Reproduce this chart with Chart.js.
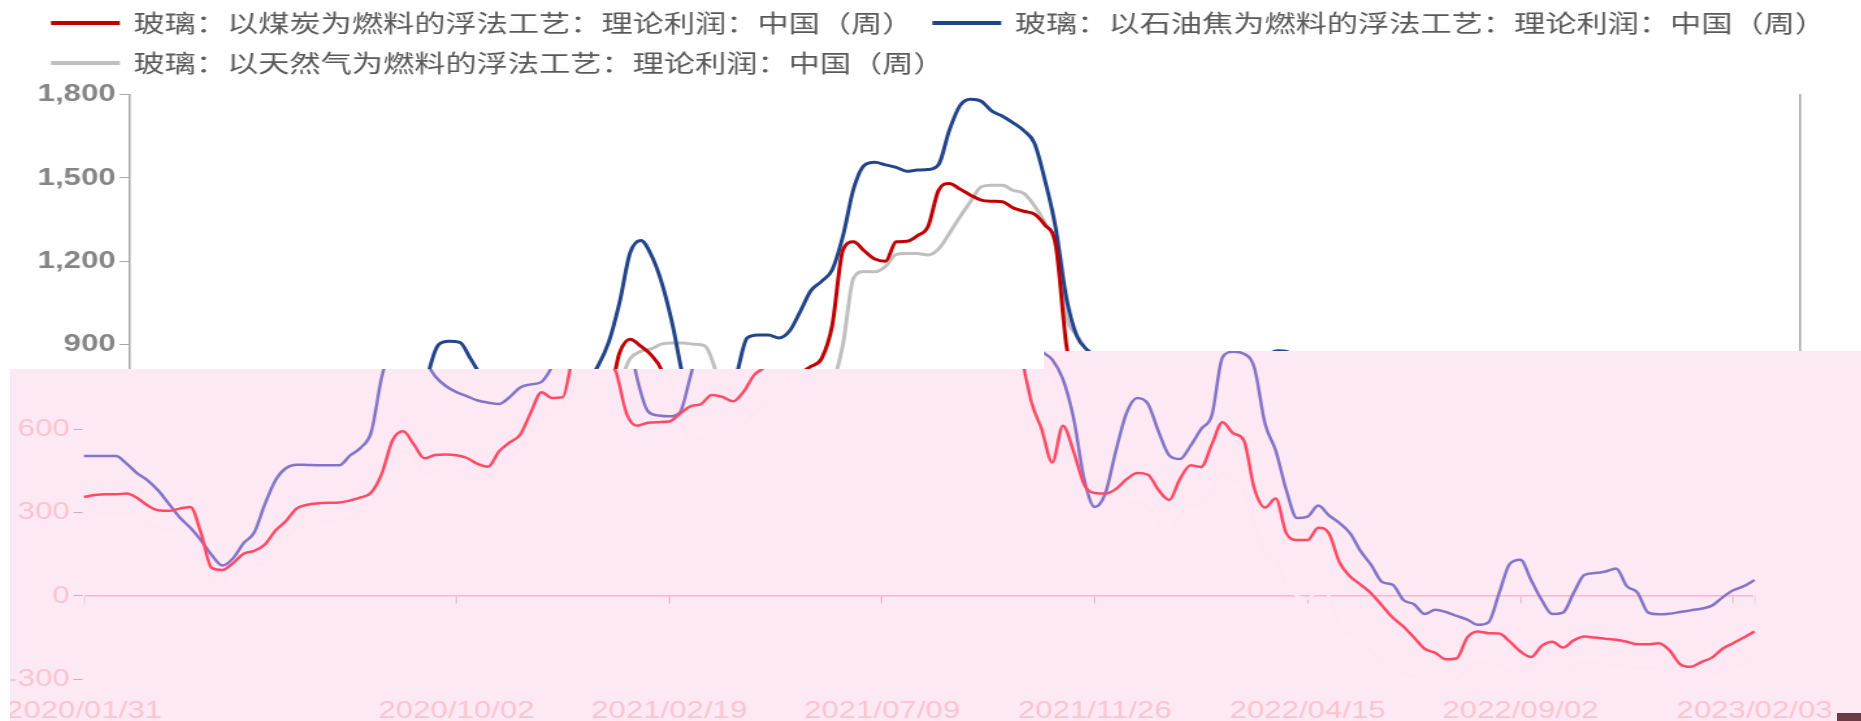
<!DOCTYPE html>
<html>
<head>
<meta charset="utf-8">
<script src="https://cdn.jsdelivr.net/npm/chart.js@4.4.1/dist/chart.umd.min.js"></script>
<style>
html,body{margin:0;padding:0;background:#fff;overflow:hidden}
#stage{position:relative;width:1861px;height:721px;overflow:hidden;background:#fff}
.layer{position:absolute;left:0;top:0;width:1861px;height:721px;overflow:hidden}
#pinkLayer{clip-path:polygon(10px 369px,1044px 369px,1044px 351px,1861px 351px,1861px 721px,10px 721px)}
canvas.c{position:absolute;transform-origin:0 0;transform:scaleX(1.3);width:1470px;height:731px}
#cTop{left:-4px;top:-11px;background:#fff}
#cPink{left:-50px;top:-10px;background:#fde9f4}
#patch{position:absolute;left:1837px;top:713px;width:24px;height:8px;background:#6b3b45}
</style>
</head>
<body>
<div id="stage">
  <div class="layer" id="topLayer"><canvas class="c" id="cTop" width="1470" height="731"></canvas></div>
  <div class="layer" id="pinkLayer"><canvas class="c" id="cPink" width="1470" height="731"></canvas></div>
  <div id="patch"></div>
</div>
<script>
// ---- data (weekly, 2020/01/31 .. 2023/02/03) ----
const seriesNames = [
  '玻璃：以煤炭为燃料的浮法工艺：理论利润：中国（周）',
  '玻璃：以石油焦为燃料的浮法工艺：理论利润：中国（周）',
  '玻璃：以天然气为燃料的浮法工艺：理论利润：中国（周）'
];
const coalProfit = [
  356,363,366,366,368,352,325,308,306,314,
  320,226,100,93,118,152,162,185,235,270,
  315,328,333,335,336,343,354,372,441,560,
  592,545,495,507,509,506,496,475,465,520,
  552,580,660,733,712,715,870,920,895,862,
  805,655,612,623,625,627,655,682,690,723,
  716,700,735,795,822,850,970,1240,1270,1238,
  1208,1200,1270,1272,1292,1325,1456,1480,1460,1438,
  1420,1416,1414,1392,1380,1370,1330,1260,900,703,
  600,480,612,520,400,370,368,385,420,442,
  436,380,345,420,470,464,545,625,585,560,
  385,318,350,225,201,201,245,225,120,70,
  40,8,-35,-78,-110,-150,-190,-205,-228,-225,
  -150,-128,-134,-135,-164,-200,-220,-180,-165,-186,
  -160,-146,-150,-154,-158,-165,-174,-174,-170,-195,
  -245,-255,-238,-222,-190,-170,-150,-128
];
const petcokeProfit = [
  503,503,503,503,476,441,415,378,330,282,
  245,200,147,109,135,190,228,330,416,460,
  472,471,470,470,470,505,533,590,790,900,
  912,908,850,790,755,733,718,703,695,690,
  715,750,761,770,825,910,1050,1230,1275,1222,
  1120,970,780,664,649,646,660,790,924,935,
  935,924,950,1020,1095,1128,1170,1290,1460,1545,
  1556,1547,1538,1524,1528,1530,1548,1671,1760,1783,
  1776,1740,1722,1698,1670,1625,1490,1320,1070,930,
  880,850,780,640,420,320,370,525,660,712,
  690,590,505,492,540,601,650,858,878,871,
  820,619,523,380,280,285,325,290,262,225,
  160,110,50,40,-15,-30,-65,-50,-58,-72,
  -85,-104,-95,10,115,130,57,-15,-65,-60,
  10,75,82,88,99,35,12,-60,-66,-64,
  -58,-52,-46,-35,-5,20,35,57
];
const gasProfit = [
  290,295,298,300,300,285,260,245,240,245,
  250,170,60,50,105,110,112,118,160,200,
  250,262,266,268,270,280,300,330,390,480,
  520,500,440,450,455,452,440,420,415,470,
  500,530,600,660,650,680,760,850,876,885,
  903,906,906,902,896,810,640,560,570,600,
  610,600,620,660,690,720,760,900,1140,1163,
  1162,1181,1225,1228,1228,1223,1245,1300,1360,1415,
  1468,1474,1474,1455,1444,1400,1338,1260,1000,934,
  875,800,700,560,430,330,300,310,330,340,
  320,260,230,290,330,330,380,440,420,390,
  250,150,130,40,0,-10,20,0,-100,-140,
  -180,-200,-230,-260,-280,-290,-295,-298,-299,-295,
  -260,-240,-245,-250,-270,-290,-296,-270,-260,-275,
  -250,-240,-240,-245,-250,-255,-262,-262,-260,-275,
  -295,-298,-290,-282,-265,-255,-240,-220
];
const tickLabels = ['2020/01/31','2020/10/02','2021/02/19','2021/07/09','2021/11/26','2022/04/15','2022/09/02','2023/02/03'];
const extraTickMarks = ['2023/01/20'];
const yMin = -300, yMax = 1800, yStep = 300;

// weekly category labels
const categories = [];
(function(){
  const start = Date.UTC(2020, 0, 31);
  for (let i = 0; i < coalProfit.length; i++) {
    const d = new Date(start + i * 7 * 86400000);
    categories.push(d.getUTCFullYear() + '/' + String(d.getUTCMonth()+1).padStart(2,'0') + '/' + String(d.getUTCDate()).padStart(2,'0'));
  }
})();
const tickIdx = tickLabels.concat(extraTickMarks).map(l => categories.indexOf(l)).filter(i => i >= 0).sort((a,b)=>a-b);

const palettes = {
  top:  {lines:['#c00000','#21448a','#bfbfbf'], text:'#858585', weight:'bold', legend:'#595959', axis:'#a6a6a6', tick:'#a6a6a6', zero:'#d9d9d9', xtick:'#a6a6a6', lw:3},
  pink: {lines:['#ff4a66','#8474c8','#fce7f2'], text:'#f9c3cf', weight:'normal', legend:'#f9c3cf', axis:'#fde9f4', tick:'#dba8b7', zero:'#f8b8c6', xtick:'#efb5c3', lw:2.5}
};

function makeChart(canvas, p) {
  const values = [coalProfit, petcokeProfit, gasProfit];
  return new Chart(canvas, {
    type: 'line',
    data: {
      labels: categories,
      datasets: [0, 1, 2].map(k => ({
        label: seriesNames[k],
        data: values[k],
        borderColor: p.lines[k],
        backgroundColor: p.lines[k],
        borderWidth: p.lw,
        pointRadius: 0,
        fill: false,
        cubicInterpolationMode: 'monotone'
      }))
    },
    options: {
      responsive: false,
      devicePixelRatio: 1,
      animation: false,
      layout: {padding: {left: 27.8, right: 0, top: 6, bottom: 0}},
      plugins: {
        tooltip: {enabled: false},
        legend: {
          display: true,
          position: 'top',
          align: 'start',
          labels: {
            boxWidth: 50, boxHeight: 1, padding: 16,
            color: p.legend,
            font: {family: '"Noto Sans CJK SC", sans-serif', size: 24}
          }
        }
      },
      scales: {
        x: {
          type: 'category',
          position: 'bottom',
          offset: false,
          afterBuildTicks: s => { s.ticks = tickIdx.map(v => ({value: v})); },
          afterFit: s => { s.height = 41.7; },
          grid: {display: false},
          border: {display: false},
          ticks: {
            autoSkip: false, maxRotation: 0, minRotation: 0, padding: 10,
            color: p.text,
            font: {family: '"Liberation Sans", Arial, sans-serif', size: 24},
            callback: v => (tickLabels.includes(categories[v]) ? categories[v] : '')
          }
        },
        x2: {
          type: 'category',
          position: {y: 0},
          offset: false,
          afterBuildTicks: s => { s.ticks = tickIdx.map(v => ({value: v})); },
          grid: {display: true, drawOnChartArea: false, drawTicks: true, tickLength: 7, color: p.xtick, lineWidth: 1},
          border: {display: true, color: p.zero, width: 1.5},
          ticks: {display: false}
        },
        xt: {
          type: 'category',
          position: 'top',
          afterFit: s => { s.height = 9.5; },
          grid: {display: false},
          border: {display: false},
          ticks: {display: false}
        },
        y: {
          type: 'linear',
          position: 'left',
          min: yMin, max: yMax,
          afterFit: s => { s.width = 75.3; },
          grid: {display: true, drawOnChartArea: false, drawTicks: true, tickLength: 8, tickColor: p.tick, color: p.tick},
          border: {display: true, color: p.axis, width: 1.5},
          ticks: {
            stepSize: yStep, padding: 3,
            color: p.text,
            font: {family: '"Liberation Sans", Arial, sans-serif', size: 24, weight: p.weight},
            callback: v => Number(v).toLocaleString('en-US')
          }
        },
        y2: {
          type: 'linear',
          position: 'right',
          min: yMin, max: yMax,
          afterFit: s => { s.width = 81.9; },
          grid: {display: false},
          border: {display: true, color: p.axis, width: 1.5},
          ticks: {display: false}
        }
      }
    }
  });
}

makeChart(document.getElementById('cTop'), palettes.top);
makeChart(document.getElementById('cPink'), palettes.pink);
</script>
</body>
</html>
